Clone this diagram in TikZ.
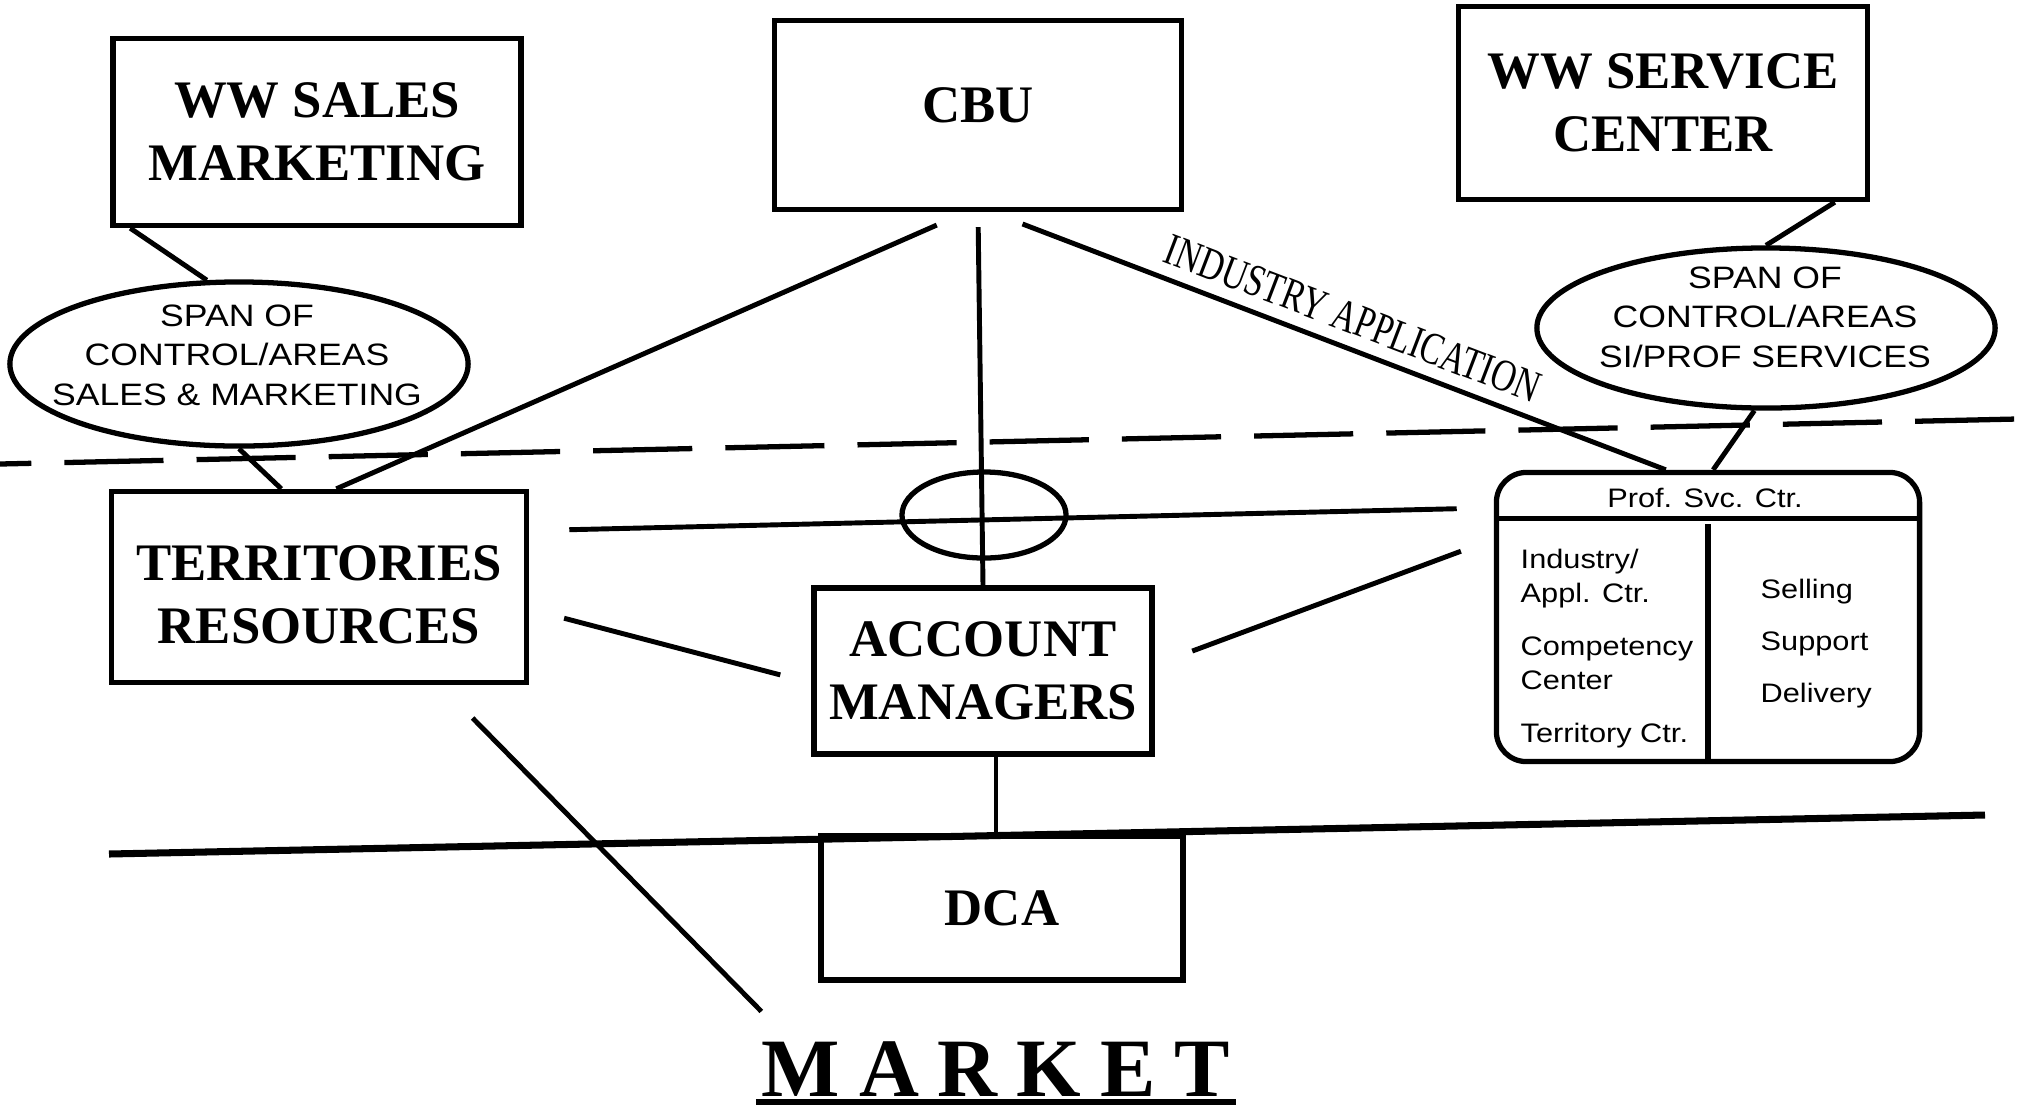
\documentclass[tikz,border=0pt]{standalone}
\usepackage{fontspec}
\setmainfont{Liberation Serif}
\newfontfamily\widesans[FakeStretch=1.15]{Liberation Sans}
\usetikzlibrary{shapes.geometric}

\tikzset{
  orgbox/.style={draw, line width=1.5pt, inner sep=0pt, align=center,
    font=\bfseries\fontsize{15}{18}\selectfont},
  spanoval/.style={draw, ellipse, line width=1.5pt, inner sep=0pt},
  spantext/.style={align=center, inner sep=0pt,
    font=\widesans\fontsize{8.8}{11.2}\selectfont},
  svctext/.style={align=left, inner sep=0pt, anchor=north west},
  link/.style={line width=1.4pt},
}

\begin{document}
\begin{tikzpicture}[x=0.01cm, y=-0.01cm]
\useasboundingbox (0,0) rectangle (2017,1114);

% top row
\node[orgbox, minimum width=4.08cm, minimum height=1.87cm] (sales) at (317,132) {WW SALES\\MARKETING};
\node[orgbox, minimum width=4.07cm, minimum height=1.89cm] (cbu) at (978,115) {CBU\rule[-5.7pt]{0pt}{5.7pt}};
\node[orgbox, minimum width=4.09cm, minimum height=1.93cm] (service) at (1663,103) {WW SERVICE\\CENTER};

% span of control
\node[spanoval, minimum width=4.58cm, minimum height=1.64cm] (lspan) at (239,364) {};
\node[spantext] (lspantext) at (237,355) {SPAN OF\\CONTROL/AREAS\\SALES \& MARKETING};
\node[spanoval, minimum width=4.58cm, minimum height=1.60cm] (rspan) at (1766,328) {};
\node[spantext] (rspantext) at (1765,317) {SPAN OF\\CONTROL/AREAS\\SI/PROF SERVICES};

% dashed line
\draw[line width=1.5pt, dash pattern=on 28.2pt off 9.4pt, dash phase=19.3pt] (0,464) -- (2017,419);

% middle row
\node[orgbox, minimum width=4.15cm, minimum height=1.91cm] (terr) at (319,587) {\rule{0pt}{14.4pt}TERRITORIES\\RESOURCES};
\node[spanoval, minimum width=1.64cm, minimum height=0.86cm] (hub) at (984,515) {};
\node[orgbox, minimum width=3.38cm, minimum height=1.66cm] (acct) at (983,671) {ACCOUNT\\MANAGERS};

% prof. svc. ctr.
\node[draw, line width=1.5pt, rounded corners=0.3cm, minimum width=4.23cm, minimum height=2.89cm] (prof) at (1708,617) {};
\draw[line width=1.5pt] ([yshift=-0.49cm]prof.north west) -- ([yshift=-0.49cm]prof.north east);
\draw[line width=1.5pt] (prof.south) -- ++(0,-240);
\node[inner sep=0pt, font=\widesans\fontsize{7.6}{9}\selectfont] (profhead) at (1705,498) {Prof. Svc. Ctr.};
\node[svctext, font=\widesans\fontsize{7.6}{9.7}\selectfont] (profleft) at (1520,548) {Industry/\\Appl. Ctr.\\[5.4pt]Competency\\Center\\[5.4pt]Territory Ctr.};
\node[svctext, font=\widesans\fontsize{7.6}{14.8}\selectfont] (profright) at (1760,578) {Selling\\Support\\Delivery};

% bottom
\draw[line width=2pt] (109,854) -- (1985,815);
\node[orgbox, minimum width=3.62cm, minimum height=1.44cm] (dca) at (1002,908) {DCA};
\node[inner sep=1.5pt, font=\bfseries\fontsize{23.6}{28}\selectfont] (market) at (996,1069) {M\hspace{5.4pt}A\hspace{5.4pt}R\hspace{5.4pt}K\hspace{5.4pt}E\hspace{5.4pt}T};
\draw[line width=1.7pt] (market.south west) -- (market.south east);

% connectors
\draw[link] ([xshift=0.2cm]sales.south west) -- (lspan.111);
\draw[link] (lspan.south) -- (terr.111);
\draw[link, shorten >=0.32cm] (terr.80) -- (cbu.-97);
\draw[link, shorten <=0.15cm] (cbu.south) -- (acct.north);
\draw[link, shorten <=0.33cm] (cbu.-82) -- node[pos=0.52, sloped, above, font=\fontsize{12.9}{15}\selectfont] (indapp) {\scalebox{0.75}[1]{INDUSTRY APPLICATION}} (prof.106);
\draw[link] (service.-30) -- (rspan.north);
\draw[link] (rspan.-98) -- (prof.88);
\draw[link, shorten <=0.36cm, shorten >=0.32cm] (terr.-6) -- (acct.-176.6);
\draw[link, shorten <=0.4cm, shorten >=0.35cm] (acct.2) -- (prof.160);
\draw[link, shorten <=0.4cm, shorten >=0.37cm] (terr.15) -- (prof.153);
\draw[link] ([xshift=-0.06cm]dca.north) -- ([xshift=-0.06cm]dca.north |- acct.south);
\draw[link, shorten <=0.46cm, shorten >=0.34cm] (terr.-39) -- (market.171);

\end{tikzpicture}
\end{document}
